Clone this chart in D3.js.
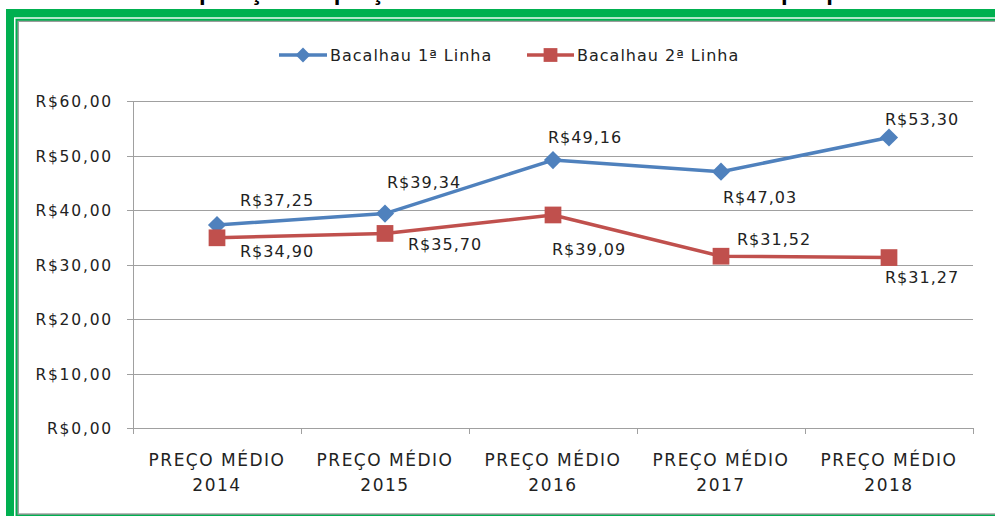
<!DOCTYPE html>
<html>
<head>
<meta charset="utf-8">
<script src="https://cdn.jsdelivr.net/npm/d3@7"></script>
<style>
  html, body { margin: 0; padding: 0; background: #fff; }
  svg { display: block; }
  text { font-family: "DejaVu Sans", sans-serif; fill: #222; }
</style>
</head>
<body>
<svg id="viz" width="995" height="516"></svg>
<script>
// Data
const categories = ["PREÇO MÉDIO|2014", "PREÇO MÉDIO|2015", "PREÇO MÉDIO|2016", "PREÇO MÉDIO|2017", "PREÇO MÉDIO|2018"];
const seriesNames = ["Bacalhau 1ª Linha", "Bacalhau 2ª Linha"];
const linha1 = [37.25, 39.34, 49.16, 47.03, 53.30];
const linha2 = [34.90, 35.70, 39.09, 31.52, 31.27];
const yTicks = [0, 10, 20, 30, 40, 50, 60];
const titleText = "Comparação do preço médio do Bacalhau 1ª e 2ª Linha por período";

// label placement (dx from point to text start, dy to baseline)
const labelPos1 = [[23, -19], [2, -26], [-5, -17], [2, 31], [-4, -13]];
const labelPos2 = [[23, 19], [23, 17], [-1, 40], [16, -11], [-4, 25]];

const width = 995, height = 516;
const svg = d3.select("#viz");
const green = "#00B050";
const blue = "#4F81BD", red = "#C0504D";
const gridColor = "#a0a0a0";

const fmt = v => "R$" + d3.format(".2f")(v).replace(".", ",");

// title sits above the frame, only its lowest part shows
svg.append("text")
  .attr("x", 530).attr("y", 0)
  .attr("text-anchor", "middle")
  .style("font-family", "'Liberation Sans', sans-serif")
  .style("font-weight", "bold")
  .style("font-size", "24px")
  .style("fill", "#000")
  .text(titleText);

// Frame
svg.append("rect").attr("x", 6).attr("y", 9).attr("width", 1100).attr("height", 600).attr("fill", green);
svg.append("rect").attr("x", 14).attr("y", 17.3).attr("width", 1100).attr("height", 600).attr("fill", "#fff");
svg.append("rect").attr("x", 15.5).attr("y", 18.7).attr("width", 1100).attr("height", 600).attr("fill", green);
svg.append("rect").attr("x", 17.5).attr("y", 20.7).attr("width", 1100).attr("height", 494).attr("fill", "#9c9c9c");
svg.append("rect").attr("x", 19).attr("y", 22).attr("width", 1100).attr("height", 491.3).attr("fill", "#fff");

// Scales
const plot = { left: 133, right: 973, top: 101, bottom: 428 };
const x = d3.scaleBand().domain(categories).range([plot.left, plot.right]).padding(0);
const cx = c => x(c) + x.bandwidth() / 2;
const y = d3.scaleLinear().domain([0, 60]).range([plot.bottom, plot.top]);

// Gridlines + y ticks
svg.append("g").selectAll("line").data(yTicks).join("line")
  .attr("x1", plot.left - 6).attr("x2", plot.right)
  .attr("y1", d => Math.round(y(d)) + 0.5).attr("y2", d => Math.round(y(d)) + 0.5)
  .attr("stroke", gridColor).attr("stroke-width", 1);

// Y axis line
svg.append("line")
  .attr("x1", plot.left + 0.5).attr("x2", plot.left + 0.5)
  .attr("y1", plot.top).attr("y2", plot.bottom + 6)
  .attr("stroke", gridColor);

// Y labels
svg.append("g").selectAll("text").data(yTicks).join("text")
  .attr("x", 113).attr("y", d => y(d) + 6)
  .attr("text-anchor", "end")
  .style("font-size", "15.5px")
  .style("letter-spacing", "1.8px")
  .text(d => fmt(d));

// Category ticks at band boundaries
svg.append("g").selectAll("line").data(categories).join("line")
  .attr("x1", d => Math.round(x(d) + x.bandwidth()) + 0.5)
  .attr("x2", d => Math.round(x(d) + x.bandwidth()) + 0.5)
  .attr("y1", plot.bottom).attr("y2", plot.bottom + 6)
  .attr("stroke", gridColor);

// Category labels
const catLabels = svg.append("g").selectAll("text").data(categories).join("text")
  .attr("text-anchor", "middle")
  .style("font-size", "17px")
  .style("letter-spacing", "1.5px");
catLabels.append("tspan").attr("x", d => cx(d)).attr("y", 466).text(d => d.split("|")[0]);
catLabels.append("tspan").attr("x", d => cx(d)).attr("y", 491).text(d => d.split("|")[1]);

// Lines
const line = d3.line().x((d, i) => cx(categories[i])).y(d => y(d));
const series = [
  { name: seriesNames[0], values: linha1, color: blue, diamond: true, labels: labelPos1 },
  { name: seriesNames[1], values: linha2, color: red, diamond: false, labels: labelPos2 }
];

series.forEach(s => {
  svg.append("path")
    .datum(s.values)
    .attr("fill", "none")
    .attr("stroke", s.color)
    .attr("stroke-width", 3.5)
    .attr("stroke-linejoin", "round")
    .attr("d", line);
});

// square marker, turned 45 degrees for the diamond
const marker = (sel, s, size) => sel
  .attr("d", d3.symbol().type(d3.symbolSquare).size(size))
  .attr("fill", s.color);

series.forEach(s => {
  svg.append("g").selectAll("path").data(s.values).join("path")
    .attr("transform", (d, i) => `translate(${cx(categories[i])},${y(d)})` + (s.diamond ? " rotate(45)" : ""))
    .call(marker, s, s.diamond ? 165 : 280);
});

series.forEach(s => {
  svg.append("g").selectAll("text").data(s.values).join("text")
    .attr("x", (d, i) => cx(categories[i]) + s.labels[i][0])
    .attr("y", (d, i) => y(d) + s.labels[i][1])
    .style("font-size", "16px")
    .style("letter-spacing", "1px")
    .text(d => fmt(d));
});

// Legend
const legendItems = [
  { x: 279, w: 48, textX: 330 },
  { x: 527, w: 47, textX: 577 }
];
series.forEach((s, i) => {
  const L = legendItems[i];
  const g = svg.append("g").attr("transform", `translate(0,55)`);
  g.append("line").attr("x1", L.x).attr("x2", L.x + L.w).attr("y1", 0).attr("y2", 0)
    .attr("stroke", s.color).attr("stroke-width", 3.5);
  g.append("path")
    .attr("transform", `translate(${L.x + L.w / 2},0)` + (s.diamond ? " rotate(45)" : ""))
    .call(marker, s, s.diamond ? 110 : 190);
  g.append("text").attr("x", L.textX).attr("y", 6)
    .style("font-size", "16px")
    .style("letter-spacing", "1px")
    .text(s.name);
});
</script>
</body>
</html>
